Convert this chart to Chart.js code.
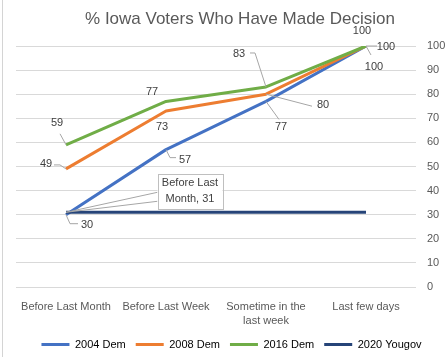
<!DOCTYPE html>
<html><head><meta charset="utf-8">
<script src="https://cdn.jsdelivr.net/npm/chart.js@4.4.0/dist/chart.umd.min.js"></script>
<style>
html,body{margin:0;padding:0;background:#fff;}
#wrap{position:relative;width:447px;height:357px;overflow:hidden;}
#edge{position:absolute;left:2px;top:0;width:1px;height:357px;background:#d4d4d4;}
canvas{position:absolute;left:0;top:0;}
</style></head><body>
<div id="wrap"><canvas id="c" width="447" height="357"></canvas><div id="edge"></div></div>
<script>
const titleText = '% Iowa Voters Who Have Made Decision';
const categories = ['Before Last Month', 'Before Last Week', ['Sometime in the', 'last week'], 'Last few days'];
const seriesNames = ['2004 Dem', '2008 Dem', '2016 Dem', '2020 Yougov'];
const dem2004 = [30, 57, 77, 100];
const dem2008 = [49, 73, 80, 100];
const dem2016 = [59, 77, 83, 100];
const yougov2020 = [31, 31, 31, 31];
const yTicks = [0, 10, 20, 30, 40, 50, 60, 70, 80, 90, 100];

const colors = ['#4472C4', '#ED7D31', '#70AD47', '#264478'];
const FONT = '"Liberation Sans", Arial, sans-serif';

// label placement (offsets from the data point), leader lines
const placements = [
  [{dx:21,dy:10,lead:[[0,0],[4,9],[12,9]]}, {dx:19,dy:10,lead:[[0,0],[4,8],[10,8]]}, {dx:15,dy:26,lead:[[0,0],[13,18]]}, {dx:8,dy:21,lead:[[0,0],[5,9]]}],
  [{dx:-20,dy:-5,lead:[[0,0],[-6,-4],[-12,-4]]}, {dx:-4,dy:16}, {dx:57,dy:11,lead:[[0,0],[46,12]]}, {dx:20,dy:1,lead:[[0,0],[11,0]]}],
  [{dx:-9,dy:-22,lead:[[0,0],[-6,-11]]}, {dx:-14,dy:-9}, {dx:-27,dy:-33,lead:[[0,0],[-11,-34],[-16,-34]]}, {dx:-4,dy:-15}],
  [{callout:true,dx:124,dy:-21,w:65,h:35}, null, null, null]
];

const labelPlugin = {
  id: 'labels',
  afterDatasetsDraw(chart) {
    const ctx = chart.ctx;
    ctx.save();
    ctx.font = '11px ' + FONT;
    ctx.textAlign = 'center';
    ctx.textBaseline = 'middle';
    chart.data.datasets.forEach((ds, i) => {
      const meta = chart.getDatasetMeta(i);
      meta.data.forEach((pt, j) => {
        const p = placements[i][j];
        if (!p) return;
        const x = pt.x, y = pt.y;
        const val = ds.data[j];
        if (p.callout) {
          const cx = x + p.dx, cy = y + p.dy;
          const left = cx - p.w / 2, top = cy - p.h / 2;
          ctx.strokeStyle = '#a6a6a6';
          ctx.lineWidth = 1;
          ctx.beginPath();
          ctx.moveTo(x, y); ctx.lineTo(left, cy + 1);
          ctx.moveTo(x, y); ctx.lineTo(left, cy + 10);
          ctx.stroke();
          ctx.fillStyle = '#ffffff';
          ctx.fillRect(left, top, p.w, p.h);
          ctx.strokeStyle = '#bfbfbf';
          ctx.strokeRect(Math.round(left) + 0.5, Math.round(top) + 0.5, p.w, p.h);
          ctx.fillStyle = '#404040';
          const cat = chart.data.labels[j];
          ctx.fillText(String(cat).split(' ').slice(0, 2).join(' '), cx, cy - 8);
          ctx.fillText(String(cat).split(' ').slice(2).join(' ') + ', ' + val, cx, cy + 8);
          return;
        }
        if (p.lead) {
          ctx.strokeStyle = '#a6a6a6';
          ctx.lineWidth = 1;
          ctx.beginPath();
          p.lead.forEach((q, k) => {
            const px = x + q[0], py = y + q[1];
            if (k === 0) ctx.moveTo(px, py); else ctx.lineTo(px, py);
          });
          ctx.stroke();
        }
        ctx.fillStyle = '#404040';
        ctx.fillText(String(val), x + p.dx, y + p.dy);
      });
    });
    ctx.restore();
  },
  afterDraw(chart) {
    const ctx = chart.ctx;
    ctx.save();
    ctx.font = '17px ' + FONT;
    ctx.fillStyle = '#595959';
    ctx.textAlign = 'center';
    ctx.textBaseline = 'middle';
    ctx.fillText(titleText, 240, 19);
    ctx.restore();
  }
};

const seriesData = [dem2004, dem2008, dem2016, yougov2020];
new Chart(document.getElementById('c'), {
  type: 'line',
  data: {
    labels: categories,
    datasets: seriesData.map((d, i) => ({
      label: seriesNames[i],
      data: d,
      borderColor: colors[i],
      backgroundColor: colors[i],
      borderWidth: 3,
      pointRadius: 0,
      tension: 0,
      borderJoinStyle: 'round',
      order: 4 - i
    }))
  },
  options: {
    responsive: false,
    devicePixelRatio: 1,
    animation: false,
    layout: { padding: { left: 16, top: 46, right: 0, bottom: -3 } },
    plugins: {
      title: { display: false },
      tooltip: { enabled: false },
      legend: {
        position: 'bottom',
        labels: {
          boxWidth: 28,
          boxHeight: 3,
          padding: 10,
          color: '#595959',
          font: { family: FONT, size: 11 },
          generateLabels: chart => chart.data.datasets.map((ds, i) => ({
            text: ds.label, fillStyle: ds.borderColor, strokeStyle: ds.borderColor,
            lineWidth: 0, hidden: false, datasetIndex: i
          }))
        }
      }
    },
    scales: {
      x: {
        offset: true,
        grid: { display: false },
        border: { display: false },
        ticks: { color: '#595959', font: { family: FONT, size: 11, lineHeight: 1.25 }, padding: 5, maxRotation: 0, autoSkip: false },
        afterFit: s => { s.height = 42; }
      },
      y: {
        position: 'right',
        min: 0, max: 100,
        afterBuildTicks: s => { s.ticks = yTicks.map(v => ({ value: v })); },
        grid: { color: '#d9d9d9', lineWidth: 1, drawTicks: false },
        border: { display: false },
        ticks: { color: '#595959', font: { family: FONT, size: 11 }, padding: 11 },
        afterFit: s => { s.width = 31; }
      }
    }
  },
  plugins: [labelPlugin]
});
</script>
</body></html>
